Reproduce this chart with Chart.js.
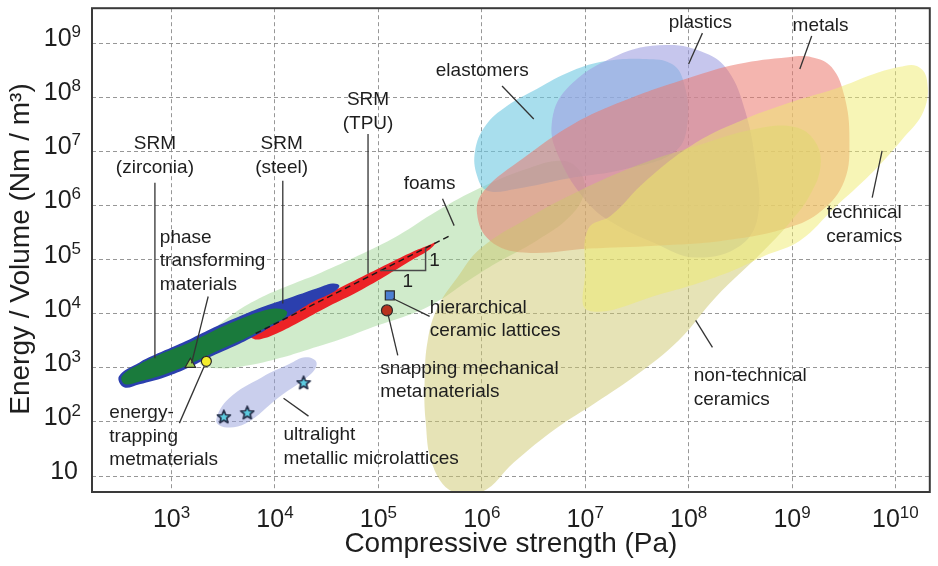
<!DOCTYPE html>
<html>
<head>
<meta charset="utf-8">
<script src="https://cdn.jsdelivr.net/npm/chart.js@4"></script>
<style>
  html, body { margin: 0; padding: 0; background: #fff; }
</style>
</head>
<body>
<canvas id="ashbyChart" width="938" height="566"></canvas>
<script>
// axis ticks
const xTickValues = [1e3, 1e4, 1e5, 1e6, 1e7, 1e8, 1e9, 1e10];
const xTickExponents = ['3', '4', '5', '6', '7', '8', '9', '10'];
const yTickValues = [1e1, 1e2, 1e3, 1e4, 1e5, 1e6, 1e7, 1e8, 1e9];
const yTickExponents = ['', '2', '3', '4', '5', '6', '7', '8', '9'];

// material family outlines, [compressive strength (Pa), energy / volume (Nm/m3)]
const foams = [[1.86e3, 1.26e3], [2.89e3, 9.8e2], [5.6e3, 1.11e3], [1.09e4, 1.5e3], [2.11e4, 2.19e3], [4.57e4, 3.5e3], [9.9e4, 6.1e3], [2.4e5, 1.1e4], [4.17e5, 1.91e4], [7.2e5, 3.93e4], [1.41e6, 8.8e4], [3.4e6, 2.24e5], [6.9e6, 5.9e5], [9.8e6, 1.72e6], [8.8e6, 4.37e6], [5.9e6, 6.7e6], [2.73e6, 4.75e6], [9.7e5, 2.12e6], [3.73e5, 8.0e5], [1.54e5, 2.77e5], [6.4e4, 1.19e5], [2.81e4, 5.8e4], [1.36e4, 3.32e4], [7.0e3, 1.91e4], [3.77e3, 9.3e3], [2.32e3, 3.97e3]];
const elastomers = [[8.6e5, 1.02e7], [9.0e5, 3.53e6], [1.13e6, 1.87e6], [2.19e6, 2.04e6], [6.6e6, 3.11e6], [2.49e7, 4.75e6], [7.5e7, 1.02e7], [9.8e7, 3.65e7], [8.9e7, 1.99e8], [6.9e7, 4.1e8], [3.87e7, 5.07e8], [1.6e7, 4.66e8], [7.4e6, 3.05e8], [3.4e6, 1.42e8], [1.75e6, 6.9e7], [1.08e6, 2.95e7]];
const plastics = [[6.0e7, 9.2e8], [1.46e8, 6.5e8], [2.42e8, 3.05e8], [3.52e8, 5.6e7], [4.4e8, 6.7e6], [4.7e8, 6.5e5], [3.16e8, 1.81e5], [1.17e8, 1.09e5], [4.82e7, 1.97e5], [1.71e7, 5.2e5], [9.6e6, 1.39e6], [5.6e6, 7.6e6], [4.74e6, 3.21e7], [6.6e6, 1.42e8], [1.99e7, 5.8e8]];
const metals = [[1.55e9, 5.5e8], [2.41e9, 3.61e8], [3.21e9, 1.05e8], [3.59e9, 1.77e7], [3.21e9, 2.86e6], [1.93e9, 8.0e5], [9.2e8, 3.89e5], [2.13e8, 2.24e5], [4.82e7, 1.81e5], [1.1e7, 1.6e5], [2.55e6, 1.35e5], [1.2e6, 2.24e5], [9.0e5, 7.0e5], [1.05e6, 1.87e6], [2.55e6, 7.6e6], [7.7e6, 3.21e7], [2.33e7, 8.5e7], [1.0e8, 2.26e8], [3.02e8, 4.1e8], [9.2e8, 5.5e8]];
const technicalCeramics = [[1.61e10, 3.77e8], [2.01e10, 2.17e8], [1.88e10, 5.6e7], [1.13e10, 1.56e7], [5.8e9, 3.85e6], [2.58e9, 9.1e5], [1.19e9, 2.24e5], [5.5e8, 1.19e5], [2.42e8, 5.8e4], [5.6e7, 2.36e4], [1.07e7, 1.15e4], [1.0e7, 6.3e4], [1.07e7, 3.72e5], [1.78e7, 6.5e5], [3.87e7, 2.86e6], [1.17e8, 1.44e7], [3.52e8, 3.97e7], [1.06e9, 8.5e7], [2.75e9, 1.48e8], [6.2e9, 2.68e8], [1.08e10, 3.61e8]];
const nonTechnicalCeramics = [[5.2e5, 5.1], [3.34e5, 16], [2.86e5, 1.08e2], [2.8e5, 5.9e2], [3.0e5, 3.21e3], [3.73e5, 1.3e4], [5.8e5, 4.66e4], [9.7e5, 1.6e5], [2.73e6, 5.7e5], [8.8e6, 1.87e6], [3.1e7, 5.4e6], [1.17e8, 1.26e7], [4.4e8, 2.6e7], [1.06e9, 2.83e7], [1.66e9, 1.56e7], [1.89e9, 5.4e6], [1.48e9, 1.51e6], [9.5e8, 4.81e5], [5.1e8, 1.35e5], [1.82e8, 2.0e4], [8.0e7, 3.21e3], [3.1e7, 7.3e2], [1.28e7, 2.31e2], [5.3e6, 77], [2.05e6, 18], [1.01e6, 5.1]];
const microlatticeRange = [[2.7e3, 1.08e2], [3.6e3, 2.74e2], [7.5e3, 6.7e2], [1.36e4, 1.16e3], [1.98e4, 1.56e3], [2.52e4, 1.26e3], [2.21e4, 7.6e2], [1.09e4, 2.86e2], [5.25e3, 95], [3.23e3, 80]];

// shape-recoverable materials (SRM)
const srmZirconia = [[3.3e2, 7.0e2], [4.9e2, 1.16e3], [8.6e2, 1.93e3], [1.49e3, 2.95e3], [2.59e3, 4.91e3], [4.5e3, 7.8e3], [7.3e3, 1.1e4], [1.04e4, 1.25e4], [1.3e4, 1.1e4], [1.24e4, 8.5e3], [9.7e3, 6.6e3], [6.7e3, 4.51e3], [4.5e3, 3.08e3], [2.59e3, 1.93e3], [1.49e3, 1.16e3], [8.6e2, 7.6e2], [4.9e2, 5.6e2], [3.54e2, 4.97e2]];
const srmSteel = [[3.1e2, 7.0e2], [4.9e2, 1.26e3], [8.6e2, 2.1e3], [1.49e3, 3.35e3], [2.59e3, 5.6e3], [4.5e3, 8.9e3], [7.8e3, 1.36e4], [1.51e4, 2.08e4], [2.52e4, 2.92e4], [3.59e4, 3.61e4], [4.19e4, 3.32e4], [3.75e4, 2.57e4], [2.36e4, 1.68e4], [1.51e4, 1.01e4], [9.7e3, 6.1e3], [6.3e3, 3.81e3], [4.03e3, 2.49e3], [2.32e3, 1.56e3], [1.49e3, 1.02e3], [8.6e2, 6.7e2], [4.9e2, 4.97e2], [3.46e2, 4.37e2]];
const srmTpu = [[5.86e3, 3.81e3], [7.3e3, 5.35e3], [1.09e4, 8.2e3], [1.69e4, 1.3e4], [3.28e4, 2.36e4], [6.4e4, 4.47e4], [1.24e5, 8.4e4], [2.15e5, 1.4e5], [2.99e5, 1.81e5], [3.57e5, 2.06e5], [3.13e5, 1.53e5], [2.15e5, 1.0e5], [1.24e5, 5.3e4], [6.4e4, 2.57e4], [3.28e4, 1.36e4], [1.69e4, 6.9e3], [1.09e4, 4.51e3], [7.8e3, 3.5e3], [6.4e3, 3.35e3]];

// single materials
const phaseTransforming = [[1.52e3, 1.16e3]];
const energyTrapping = [[2.17e3, 1.32e3]];
const hierarchicalLattices = [[1.29e5, 2.17e4]];
const snappingMetamaterials = [[1.21e5, 1.15e4]];
const microlattices = [[3.2e3, 1.22e2], [5.4e3, 1.45e2], [1.89e4, 5.2e2]];

// slope 1 guide and its triangle
const slopeGuide = [[6.5e3, 4.3e3], [5.0e5, 2.8e5]];
const slopeTriangle = [[1.04e5, 6.27e4], [2.86e5, 6.27e4], [2.86e5, 1.66e5]];

// label leader lines
const leaderLines = [
  [[6.9e2, 2.62e6], [6.9e2, 1.5e3]],
  [[1.19e4, 2.86e6], [1.19e4, 1.54e4]],
  [[7.94e4, 2.1e7], [7.94e4, 5.5e4]],
  [[4.17e5, 1.33e6], [5.4e5, 4.24e5]],
  [[1.57e6, 1.61e8], [3.18e6, 3.97e7]],
  [[1.36e8, 1.53e9], [1.0e8, 4.1e8]],
  [[1.55e9, 1.35e9], [1.19e9, 3.32e8]],
  [[5.96e9, 1.39e6], [7.43e9, 1.02e7]],
  [[2.26e3, 2.08e4], [1.56e3, 1.21e3]],
  [[1.19e3, 95], [2.07e3, 1.07e3]],
  [[1.21e4, 2.74e2], [2.11e4, 1.28e2]],
  [[1.38e5, 1.91e4], [3.13e5, 8.9e3]],
  [[1.24e5, 9.7e3], [1.54e5, 1.7e3]],
  [[1.17e8, 7.5e3], [1.7e8, 2.39e3]]
];

const annotations = [
  { text: ['SRM', '(zirconia)'], at: [6.9e2, 1.37e7], align: 'center' },
  { text: ['SRM', '(steel)'], at: [1.16e4, 1.37e7], align: 'center' },
  { text: ['SRM', '(TPU)'], at: [7.94e4, 8.9e7], align: 'center' },
  { text: ['foams'], at: [3.13e5, 2.52e6], align: 'center' },
  { text: ['elastomers'], at: [1.01e6, 3.05e8], align: 'center' },
  { text: ['plastics'], at: [1.3e8, 2.34e9], align: 'center' },
  { text: ['metals'], at: [1.89e9, 2.06e9], align: 'center' },
  { text: ['technical', 'ceramics'], at: [5.0e9, 7.3e5], align: 'center' },
  { text: ['phase', 'transforming', 'materials'], at: [7.7e2, 2.55e5], align: 'left' },
  { text: ['energy-', 'trapping', 'metmaterials'], at: [2.5e2, 1.45e2], align: 'left' },
  { text: ['ultralight', 'metallic microlattices'], at: [1.21e4, 57], align: 'left' },
  { text: ['hierarchical', 'ceramic lattices'], at: [3.13e5, 1.3e4], align: 'left' },
  { text: ['snapping mechanical', 'metamaterials'], at: [1.04e5, 9.8e2], align: 'left' },
  { text: ['non-technical', 'ceramics'], at: [1.12e8, 7.0e2], align: 'left' },
  { text: ['1'], at: [3.5e5, 9.6e4], align: 'center' },
  { text: ['1'], at: [1.92e5, 3.93e4], align: 'center' }
];

const FONT = '"Liberation Sans", Arial, Helvetica, sans-serif';

// little five point star for the microlattice markers
const star = document.createElement('canvas');
star.width = 16;
star.height = 16;
(function () {
  const g = star.getContext('2d');
  g.beginPath();
  for (let k = 0; k < 10; k++) {
    const r = k % 2 === 0 ? 6.8 : 3.1;
    const a = -Math.PI / 2 + k * Math.PI / 5;
    const px = 8 + r * Math.cos(a);
    const py = 8 + r * Math.sin(a);
    if (k === 0) g.moveTo(px, py); else g.lineTo(px, py);
  }
  g.closePath();
  g.fillStyle = '#5ccbe0';
  g.fill();
  g.lineJoin = 'round';
  g.lineWidth = 1.7;
  g.strokeStyle = '#27304a';
  g.stroke();
})();

function region(data, color) {
  return {
    data: data,
    backgroundColor: color,
    borderWidth: 0,
    pointRadius: 0,
    showLine: true,
    fill: 'shape',
    tension: 0.4,
    spanGaps: true,
    closed: true
  };
}

function guide(data, color, width, dash) {
  return {
    data: data,
    borderColor: color,
    borderWidth: width,
    borderDash: dash || [],
    pointRadius: 0,
    showLine: true,
    fill: false,
    tension: 0
  };
}

function marker(data, style, color, radius) {
  return {
    data: data,
    pointStyle: style,
    pointRadius: radius,
    pointBackgroundColor: color,
    pointBorderColor: '#2b2b2b',
    pointBorderWidth: 1.2,
    showLine: false
  };
}

// first dataset is drawn on top
const datasets = [
  ...leaderLines.map(l => guide(l, '#333333', 1.3)),
  marker(phaseTransforming, 'triangle', '#9ccc55', 6),
  marker(energyTrapping, 'circle', '#f4ee2c', 5),
  marker(hierarchicalLattices, 'rect', '#4c7fd2', 6.4),
  marker(snappingMetamaterials, 'circle', '#b8321f', 5.5),
  marker(microlattices, star, '#5ccbe0', 7),
  guide(slopeTriangle, '#4a4a4a', 1.5),
  guide(slopeGuide, '#1a1a1a', 1.5, [6, 4]),
  region(srmZirconia, '#1a7a3c'),
  region(srmSteel, '#2b3fae'),
  region(srmTpu, '#ec2226'),
  region(microlatticeRange, 'rgba(150, 160, 220, 0.5)'),
  region(technicalCeramics, 'rgba(240, 235, 110, 0.5)'),
  region(nonTechnicalCeramics, 'rgba(205, 200, 110, 0.5)'),
  region(metals, 'rgba(235, 120, 110, 0.55)'),
  region(plastics, 'rgba(160, 160, 225, 0.6)'),
  region(elastomers, 'rgba(110, 200, 225, 0.6)'),
  region(foams, 'rgba(150, 210, 140, 0.45)')
];

const decor = {
  id: 'decor',
  afterDatasetsUpdate(chart) {
    // close the region outlines into smooth loops
    chart.data.datasets.forEach((ds, i) => {
      if (!ds.closed) return;
      const line = chart.getDatasetMeta(i).dataset;
      if (!line) return;
      line._loop = true;
      line._fullLoop = true;
      line._segments = undefined;
      line._pointsUpdated = false;
    });
  },
  afterDatasetsDraw(chart) {
    const {ctx, scales: {x, y}} = chart;
    ctx.save();
    ctx.fillStyle = '#1e1e1e';
    ctx.font = '19px ' + FONT;
    ctx.textBaseline = 'middle';
    annotations.forEach(a => {
      const px = x.getPixelForValue(a.at[0]);
      const py = y.getPixelForValue(a.at[1]);
      ctx.textAlign = a.align;
      a.text.forEach((t, k) => ctx.fillText(t, px, py + k * 23.5));
    });
    ctx.restore();
  },
  afterDraw(chart) {
    const {ctx, chartArea, scales: {x, y}} = chart;
    const base = '25px ' + FONT;
    const sup = '17px ' + FONT;
    ctx.save();
    // frame
    ctx.strokeStyle = '#3a3a3a';
    ctx.lineWidth = 2;
    ctx.strokeRect(chartArea.left, chartArea.top, chartArea.right - chartArea.left, chartArea.bottom - chartArea.top);

    ctx.fillStyle = '#1e1e1e';
    ctx.textBaseline = 'alphabetic';
    xTickValues.forEach((v, i) => {
      const px = x.getPixelForValue(v);
      ctx.font = base;
      const wb = ctx.measureText('10').width;
      ctx.font = sup;
      const we = ctx.measureText(xTickExponents[i]).width;
      const left = px - (wb + we) / 2;
      ctx.textAlign = 'left';
      ctx.font = base;
      ctx.fillText('10', left, chartArea.bottom + 35);
      ctx.font = sup;
      ctx.fillText(xTickExponents[i], left + wb, chartArea.bottom + 26);
    });
    yTickValues.forEach((v, i) => {
      const py = y.getPixelForValue(v);
      const right = chartArea.left - 11;
      ctx.font = sup;
      const we = ctx.measureText(yTickExponents[i]).width;
      ctx.textAlign = 'right';
      ctx.fillText(yTickExponents[i], right, py - 6);
      ctx.font = base;
      ctx.fillText('10', right - we - (yTickExponents[i] ? 0 : 3), py + 3);
    });

    // axis titles
    ctx.font = '28px ' + FONT;
    ctx.textAlign = 'center';
    ctx.textBaseline = 'middle';
    ctx.fillText('Compressive strength (Pa)', (chartArea.left + chartArea.right) / 2, chartArea.bottom + 52);
    ctx.translate(21, 249);
    ctx.rotate(-Math.PI / 2);
    ctx.fillText('Energy / Volume (Nm / m³)', 0, 0);
    ctx.restore();
  }
};

const axisGrid = { color: 'rgba(140, 140, 140, 0.9)', lineWidth: 1, drawTicks: false };

new Chart(document.getElementById('ashbyChart'), {
  type: 'scatter',
  data: { datasets: datasets },
  options: {
    responsive: false,
    animation: false,
    events: [],
    layout: { padding: { left: 92, right: 2, top: 7, bottom: 74 } },
    plugins: {
      legend: { display: false },
      tooltip: { enabled: false }
    },
    scales: {
      x: {
        type: 'logarithmic',
        min: 170,
        max: 2.15e10,
        ticks: { display: false },
        grid: axisGrid,
        border: { display: false, dash: [4, 3] },
        afterBuildTicks: axis => { axis.ticks = xTickValues.map(v => ({ value: v })); },
        afterFit: axis => { axis.height = 0; }
      },
      y: {
        type: 'logarithmic',
        min: 5.07,
        max: 4.42e9,
        ticks: { display: false },
        grid: axisGrid,
        border: { display: false, dash: [4, 3] },
        afterBuildTicks: axis => { axis.ticks = yTickValues.map(v => ({ value: v })); },
        afterFit: axis => { axis.width = 0; }
      }
    }
  },
  plugins: [decor]
});
</script>
</body>
</html>
